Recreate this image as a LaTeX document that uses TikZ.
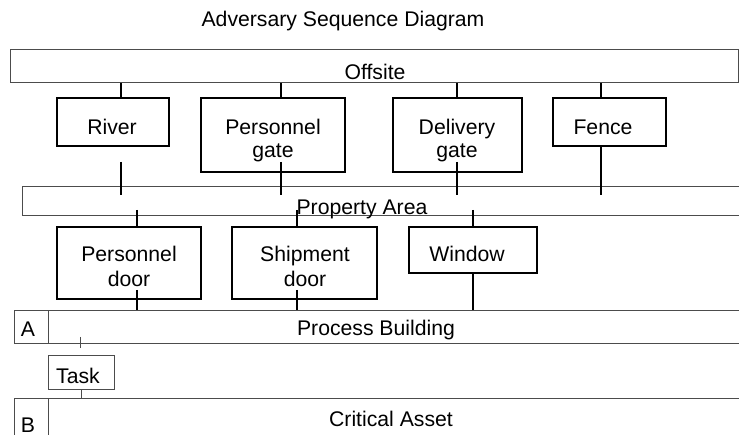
\documentclass[tikz,border=0pt]{standalone}
\usepackage{fontspec}
\setmainfont{Liberation Sans}
\begin{document}
\begin{tikzpicture}[x=1pt,y=-1pt,
  txt/.style={font=\fontsize{21.2}{24}\selectfont, inner sep=0pt, anchor=base},
  area/.style={draw=black!70, line width=1pt, inner sep=0pt, rectangle},
  item/.style={draw=black, line width=1.6pt, inner sep=0pt, rectangle},
  small/.style={draw=black!70, line width=0.9pt, inner sep=0pt, rectangle},
  conn/.style={draw=black, line width=1.6pt},
  tick/.style={draw=black!70, line width=0.9pt}]
\useasboundingbox (0,0) rectangle (739,435);
\clip (0,0) rectangle (739,435);

% title
\node[txt] (title) at (343,27) {Adversary Sequence Diagram};

% areas
\node[area, minimum width=728pt, minimum height=33pt] (offsite) at (374,66.5) {};
\node[txt] (offsitet) at (375,80) {Offsite};

\node[area, minimum width=778pt, minimum height=29pt] (property) at (411,201.5) {};

\node[area, minimum width=34pt, minimum height=33pt] (acell) at (31,327.5) {};
\node[area, minimum width=752pt, minimum height=33pt] (process) at (424,327.5) {};
\node[txt] (at) at (28,337) {A};
\node[txt] (processt) at (376,336) {Process Building};

\node[area, minimum width=34pt, minimum height=62pt] (bcell) at (31,430) {};
\node[area, minimum width=752pt, minimum height=62pt] (critical) at (424,430) {};
\node[txt] (bt) at (28,432) {B};
\node[txt] (criticalt) at (391,427) {Critical Asset};

% first row
\node[item, minimum width=112pt, minimum height=48pt] (river) at (113,122) {};
\node[txt] (rivert) at (112,135) {River};
\node[item, minimum width=144pt, minimum height=74pt] (pgate) at (273,135) {};
\node[txt] (pgatet1) at (273,135) {Personnel};
\node[txt] (pgatet2) at (273,158) {gate};
\node[item, minimum width=129pt, minimum height=74pt] (dgate) at (457.5,135) {};
\node[txt] (dgatet1) at (457,135) {Delivery};
\node[txt] (dgatet2) at (457,158) {gate};
\node[item, minimum width=113pt, minimum height=48pt] (fence) at (609.5,122) {};
\node[txt] (fencet) at (603,135) {Fence};

% property text drawn after the area box
\node[txt] (propertyt) at (362,215) {Property Area};

% second row
\node[item, minimum width=144pt, minimum height=72pt] (pdoor) at (129,263) {};
\node[txt] (pdoort1) at (129,262) {Personnel};
\node[txt] (pdoort2) at (129,287) {door};
\node[item, minimum width=145pt, minimum height=72pt] (sdoor) at (304.5,263) {};
\node[txt] (sdoort1) at (305,262) {Shipment};
\node[txt] (sdoort2) at (305,287) {door};
\node[item, minimum width=128pt, minimum height=46pt] (window) at (473,250) {};
\node[txt] (windowt) at (467,262) {Window};

% task
\node[small, minimum width=66pt, minimum height=34pt] (task) at (81,372) {};
\node[txt] (taskt) at (78,384) {Task};

% x positions of connectors
\coordinate (x1) at (121,0);
\coordinate (x2) at (281,0);
\coordinate (x3) at (457,0);
\coordinate (x4) at (601,0);
\coordinate (x5) at (137,0);
\coordinate (x6) at (297,0);
\coordinate (x7) at (473,0);

% offsite to first row
\draw[conn] (offsite.south -| x1) -- (river.north -| x1);
\draw[conn] (offsite.south -| x2) -- (pgate.north -| x2);
\draw[conn] (offsite.south -| x3) -- (dgate.north -| x3);
\draw[conn] (offsite.south -| x4) -- (fence.north -| x4);

% first row to property
\coordinate (r1) at (121,162); \coordinate (r2) at (121,195);
\coordinate (g1) at (281,162); \coordinate (g2) at (281,195);
\coordinate (d1) at (457,162); \coordinate (d2) at (457,195);
\coordinate (f2) at (601,195);
\draw[conn] (r1) -- (r2);
\draw[conn] (g1) -- (g2);
\draw[conn] (d1) -- (d2);
\draw[conn] (fence.south -| x4) -- (f2);

% property to second row
\coordinate (p1) at (137,210);
\coordinate (p2) at (297,210);
\coordinate (p3) at (473,210);
\draw[conn] (p1) -- (pdoor.north -| x5);
\draw[conn] (p2) -- (sdoor.north -| x6);
\draw[conn] (p3) -- (window.north -| x7);

% second row to process building
\coordinate (q1) at (137,290);
\coordinate (q2) at (297,290);
\draw[conn] (q1) -- (process.north -| x5);
\draw[conn] (q2) -- (process.north -| x6);
\draw[conn] (window.south -| x7) -- (process.north -| x7);

% task connectors
\coordinate (t1) at (80,337);
\coordinate (t2) at (80,348);
\coordinate (x8) at (81,0);
\draw[tick] (t1) -- (t2);
\draw[tick] (task.south -| x8) -- (critical.north -| x8);
\end{tikzpicture}
\end{document}
